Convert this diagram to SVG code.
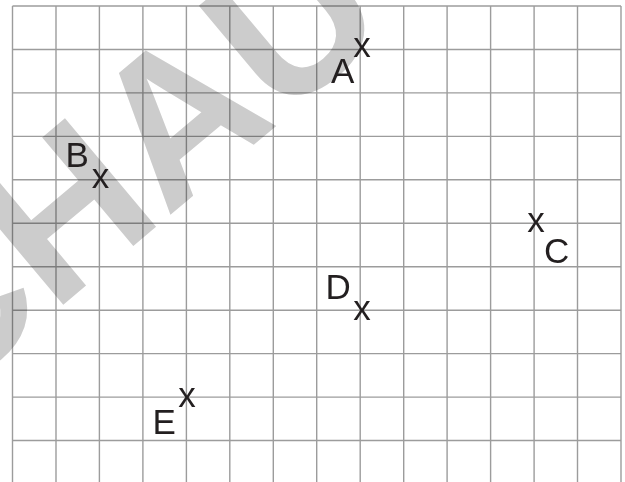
<svg xmlns="http://www.w3.org/2000/svg" width="625" height="482" viewBox="0 0 625 482">
<style>
.wm{font-family:"Liberation Sans",Arial,sans-serif;font-weight:bold;font-size:206px;fill:#cccccc}
.grid line{stroke:#9c9c9c;stroke-width:1.4}
.lbl{font-family:"Liberation Sans",Arial,Helvetica,sans-serif;font-size:35px;fill:#231f20}
.mk{font-family:"Liberation Sans",Arial,Helvetica,sans-serif;font-size:35px;fill:#231f20;text-anchor:middle}
</style>
<rect width="625" height="482" fill="#ffffff"/>
<g id="watermark">
<text class="wm" x="0" y="0" transform="translate(-61.3,409.2) rotate(-40)">CHAU</text>
</g>
<g class="grid" id="grid" style="mix-blend-mode:multiply">
<line x1="12.5" y1="6" x2="12.5" y2="482"/>
<line x1="56" y1="6" x2="56" y2="482"/>
<line x1="99.4" y1="6" x2="99.4" y2="482"/>
<line x1="142.9" y1="6" x2="142.9" y2="482"/>
<line x1="186.4" y1="6" x2="186.4" y2="482"/>
<line x1="229.8" y1="6" x2="229.8" y2="482"/>
<line x1="273.3" y1="6" x2="273.3" y2="482"/>
<line x1="316.7" y1="6" x2="316.7" y2="482"/>
<line x1="360.2" y1="6" x2="360.2" y2="482"/>
<line x1="403.7" y1="6" x2="403.7" y2="482"/>
<line x1="447.1" y1="6" x2="447.1" y2="482"/>
<line x1="490.6" y1="6" x2="490.6" y2="482"/>
<line x1="534.1" y1="6" x2="534.1" y2="482"/>
<line x1="577.5" y1="6" x2="577.5" y2="482"/>
<line x1="621" y1="6" x2="621" y2="482"/>
<line x1="12.5" y1="6" x2="621" y2="6"/>
<line x1="12.5" y1="49.5" x2="621" y2="49.5"/>
<line x1="12.5" y1="92.9" x2="621" y2="92.9"/>
<line x1="12.5" y1="136.4" x2="621" y2="136.4"/>
<line x1="12.5" y1="179.8" x2="621" y2="179.8"/>
<line x1="12.5" y1="223.3" x2="621" y2="223.3"/>
<line x1="12.5" y1="266.7" x2="621" y2="266.7"/>
<line x1="12.5" y1="310.2" x2="621" y2="310.2"/>
<line x1="12.5" y1="353.6" x2="621" y2="353.6"/>
<line x1="12.5" y1="397.1" x2="621" y2="397.1"/>
<line x1="12.5" y1="440.5" x2="621" y2="440.5"/>
</g>
<g id="point-A">
<text class="lbl" x="331" y="83">A</text>
<text class="mk" x="362" y="57">x</text>
</g>
<g id="point-B">
<text class="lbl" x="65.5" y="167">B</text>
<text class="mk" x="100.5" y="188">x</text>
</g>
<g id="point-C">
<text class="lbl" x="544" y="262.5">C</text>
<text class="mk" x="536" y="232">x</text>
</g>
<g id="point-D">
<text class="lbl" x="325.5" y="299">D</text>
<text class="mk" x="362" y="320">x</text>
</g>
<g id="point-E">
<text class="lbl" x="152.5" y="434">E</text>
<text class="mk" x="187" y="407">x</text>
</g>
</svg>
